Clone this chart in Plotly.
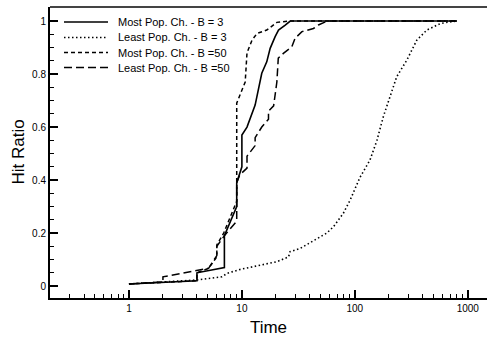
import plotly.graph_objects as go
import numpy as np

# Series data (Time, Hit Ratio)
most_b3_t = [1, 4, 4, 7, 7, 9, 9, 10, 10, 11.1, 13.1, 14.5, 15, 16.6, 17.8, 19.7, 21.1, 24.2, 26.8, 800]
most_b3_y = [0.008, 0.02, 0.05, 0.07, 0.19, 0.30, 0.39, 0.45, 0.57, 0.60, 0.683, 0.77, 0.803, 0.846, 0.897, 0.941, 0.966, 0.985, 1.0, 1.0]

least_b3_t = [1, 2, 4, 6.65, 7.4, 9.7, 14.5, 20.4, 25.9, 26.7, 32.8, 43, 56.5, 64.7, 79, 91, 111, 136, 157, 179, 205, 235, 289, 354, 434, 569, 697, 800]
least_b3_y = [0.008, 0.015, 0.023, 0.035, 0.048, 0.063, 0.079, 0.092, 0.11, 0.13, 0.142, 0.17, 0.20, 0.224, 0.274, 0.325, 0.41, 0.475, 0.55, 0.64, 0.714, 0.79, 0.853, 0.928, 0.966, 0.99, 0.997, 1.0]

most_b50_t = [1, 4, 4, 5.07, 6, 6, 6.9, 8.4, 9, 9, 9.33, 10.7, 11.1, 12.3, 13.6, 16.6, 20.4, 26, 800]
most_b50_y = [0.008, 0.02, 0.05, 0.067, 0.11, 0.155, 0.20, 0.29, 0.32, 0.69, 0.708, 0.77, 0.88, 0.928, 0.953, 0.966, 0.995, 1.0, 1.0]

least_b50_t = [1, 2, 2, 5.07, 6, 6, 7, 8.8, 9, 9, 9.6, 11.1, 11.1, 13.1, 13.1, 15, 17.2, 17.2, 19.1, 19.7, 20.4, 21, 23.3, 27.7, 29.6, 34, 43, 47.6, 55, 60, 800]
least_b50_y = [0.008, 0.016, 0.035, 0.067, 0.115, 0.15, 0.19, 0.24, 0.25, 0.39, 0.42, 0.445, 0.49, 0.53, 0.56, 0.60, 0.63, 0.66, 0.68, 0.72, 0.77, 0.86, 0.878, 0.903, 0.935, 0.96, 0.972, 0.985, 0.997, 1.0, 1.0]

names = ["Most Pop. Ch. - B = 3", "Least Pop. Ch. - B = 3", "Most Pop. Ch. - B =50", "Least Pop. Ch. - B =50"]
x_tickvals = [1, 10, 100, 1000]
x_ticktext = ["1", "10", "100", "1000"]
y_tickvals = [0, 0.2, 0.4, 0.6, 0.8, 1]
y_ticktext = ["0", "0.2", "0.4", "0.6", "0.8", "1"]

FONT = "Liberation Sans, Arial, Helvetica, sans-serif"

W, H = 487, 340
ML, MR, MT, MB = 50, 0, 7, 42
PW, PH = W - ML - MR, H - MT - MB

def px_x(p):
    return (p - ML) / PW

def px_y(p):
    return (H - MB - p) / PH

fig = go.Figure()
styles = [
    ("solid", 1.6),
    ("1.5px,2.5px", 1.6),
    ("4px,3px", 1.5),
    ("8px,4px", 1.5),
]
data = [(most_b3_t, most_b3_y), (least_b3_t, least_b3_y),
        (most_b50_t, most_b50_y), (least_b50_t, least_b50_y)]
for (t, y), (dash, w), name in zip(data, styles, names):
    fig.add_trace(go.Scatter(x=t, y=y, mode="lines", name=name, showlegend=False,
                             line=dict(color="black", width=w, dash=dash)))

# Legend (drawn compactly like the original)
shapes = [dict(type="line", xref="paper", yref="paper", x0=0, x1=1, y0=1, y1=1,
               line=dict(color="#444444", width=2))]
annotations = []
row_y = [22, 37.5, 52.5, 67.5]
for (dash, w), name, ry in zip(styles, names, row_y):
    shapes.append(dict(type="line", xref="paper", yref="paper",
                       x0=px_x(64), x1=px_x(108), y0=px_y(ry), y1=px_y(ry),
                       line=dict(color="black", width=w, dash=dash)))
    annotations.append(dict(xref="paper", yref="paper", x=px_x(116), y=px_y(ry),
                            xanchor="left", yanchor="middle", showarrow=False,
                            text=name, font=dict(size=11, family=FONT, color="black")))

annotations.append(dict(xref="paper", yref="paper", x=px_x(18), y=0.5,
                        xanchor="center", yanchor="middle", showarrow=False,
                        textangle=-90, text="Hit Ratio",
                        font=dict(size=17, family=FONT, color="black")))

fig.update_layout(
    width=W, height=H,
    margin=dict(l=ML, r=MR, t=MT, b=MB),
    paper_bgcolor="white", plot_bgcolor="white",
    font=dict(family=FONT, color="black", size=10),
    showlegend=False,
    xaxis=dict(type="log", range=[np.log10(0.2), np.log10(1480)],
               tickvals=x_tickvals, ticktext=x_ticktext,
               ticks="inside", ticklen=8, tickwidth=1.5, tickcolor="black",
               minor=dict(ticks="inside", ticklen=4, tickwidth=1, tickcolor="black", dtick="D1"),
               showline=True, linecolor="black", linewidth=2,
               showgrid=False, zeroline=False,
               tickfont=dict(size=10, family=FONT),
               title=dict(text="Time", font=dict(size=17, family=FONT), standoff=8)),
    yaxis=dict(range=[-0.045, 1.053],
               tickvals=y_tickvals, ticktext=y_ticktext,
               ticksuffix="\u00a0",
               ticks="inside", ticklen=8, tickwidth=1.5, tickcolor="black",
               minor=dict(ticks="inside", ticklen=4, tickwidth=1, tickcolor="black", dtick=0.05),
               showline=True, linecolor="black", linewidth=2,
               showgrid=False, zeroline=False,
               tickfont=dict(size=10, family=FONT)),
    shapes=shapes,
    annotations=annotations,
)

fig.write_html("out.html")
